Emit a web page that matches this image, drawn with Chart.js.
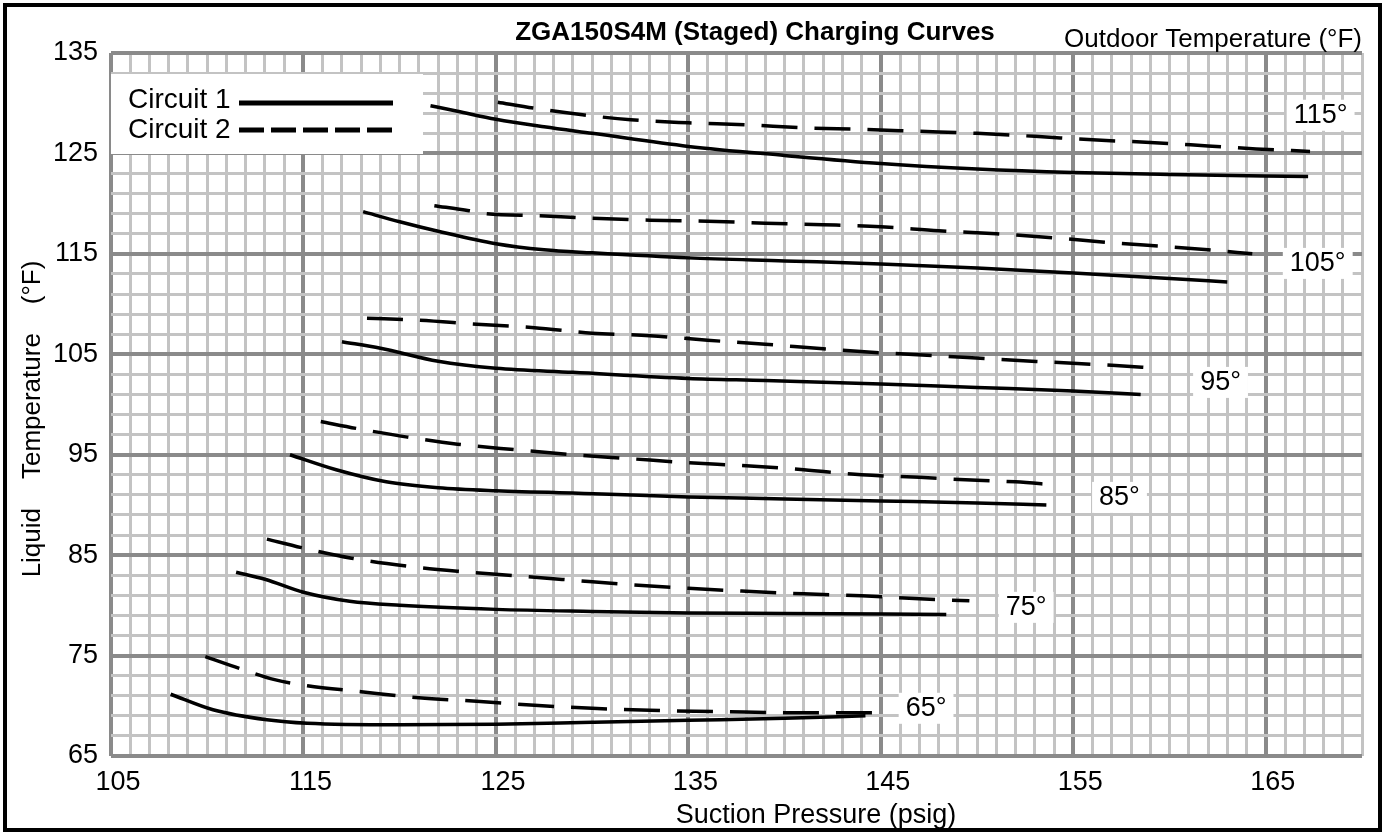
<!DOCTYPE html>
<html><head><meta charset="utf-8">
<script src="https://cdn.jsdelivr.net/npm/chart.js@4.4.0/dist/chart.umd.min.js"></script>
<style>html,body{margin:0;padding:0;background:#fff;}#wrap{width:1385px;height:832px;}</style>
</head><body><div id="wrap"><canvas id="c" width="1385" height="832"></canvas></div>
<script>
const chartTitle = 'ZGA150S4M (Staged) Charging Curves';
const outdoorTitle = 'Outdoor Temperature (°F)';
const xTitle = 'Suction Pressure (psig)';
const yTitle = 'Liquid    Temperature    (°F)';
const seriesNames = ['Circuit 1', 'Circuit 2'];
const xMin = 105, xMax = 170, yMin = 65, yMax = 135;
const xTickLabels = [105, 115, 125, 135, 145, 155, 165];
const yTickLabels = [65, 75, 85, 95, 105, 115, 125, 135];
const outdoorTemps = ['115°', '105°', '95°', '85°', '75°', '65°'];
const tempLabelX = [167.85, 167.7, 162.65, 157.4, 152.55, 147.35];
const tempLabelY = [128.85, 114.1, 102.25, 90.8, 79.85, 69.8];

// Circuit 1 (solid) [suction psig, liquid °F]
const c1_115 = [[121.6,129.75],[123,129.2],[125,128.4],[127.5,127.65],[130,127.0],[135,125.7],[140,124.8],[145,124.0],[150,123.45],[155,123.1],[160,122.9],[167.2,122.7]];
const c1_105 = [[118.1,119.2],[120,118.2],[122,117.25],[125,116.0],[127.5,115.4],[130,115.1],[135,114.6],[140,114.3],[145,114.0],[150,113.6],[155,113.1],[160,112.55],[163,112.2]];
const c1_95  = [[117.0,106.25],[119,105.6],[122,104.3],[125,103.6],[129,103.2],[135,102.6],[139,102.4],[145,102.05],[150,101.7],[155,101.35],[158.5,101.0]];
const c1_85  = [[114.3,95.0],[116.7,93.5],[119.3,92.3],[122,91.7],[125,91.4],[130.5,91.1],[135,90.8],[140,90.6],[145,90.4],[150,90.2],[153.6,90.0]];
const c1_75  = [[111.5,83.3],[113,82.6],[115,81.3],[117.4,80.4],[120,80.0],[125,79.6],[130,79.4],[135,79.25],[140,79.2],[148.4,79.1]];
const c1_65  = [[108.1,71.15],[110.3,69.6],[113.1,68.6],[115.2,68.25],[120,68.1],[125,68.15],[130,68.35],[135,68.55],[140,68.75],[144.2,69.0]];

// Circuit 2 (dashed)
const c2_115 = [[125.1,130.1],[127,129.5],[129.5,128.85],[132,128.35],[135,128.05],[138,127.85],[141,127.55],[144,127.4],[147,127.2],[150,127.0],[153,126.7],[156,126.35],[159,126.1],[162,125.75],[164.5,125.45],[167.3,125.2]];
const c2_105 = [[121.8,119.8],[123.6,119.3],[124.5,119.0],[127.3,118.8],[130,118.55],[133,118.35],[136,118.25],[139,118.05],[142,117.9],[145,117.7],[148,117.3],[151,117.0],[154,116.6],[157,116.1],[160,115.7],[162,115.4],[164.3,115.0]];
const c2_95  = [[118.3,108.6],[121,108.4],[124,108.0],[127,107.65],[130,107.1],[133,106.85],[136,106.4],[139,106.0],[142,105.55],[145,105.15],[148,104.85],[151,104.5],[154,104.2],[157,103.9],[159.4,103.6]];
const c2_85  = [[115.9,98.3],[117.8,97.6],[120.4,96.75],[123,96.05],[126,95.5],[129,95.0],[132,94.6],[135,94.2],[138,93.9],[141,93.5],[144,93.0],[147,92.75],[150,92.45],[152,92.3],[154,92.0]];
const c2_75  = [[113.1,86.6],[114.9,85.75],[117.5,84.7],[120.4,83.9],[123,83.4],[126,82.95],[129,82.5],[132,82.05],[135,81.7],[138,81.4],[141,81.15],[144,80.95],[147,80.65],[149.6,80.45]];
const c2_65  = [[109.9,74.9],[111.7,73.7],[113.5,72.6],[115.2,72.0],[118,71.4],[121,70.8],[124,70.45],[127,70.05],[130,69.75],[133,69.55],[137,69.4],[141,69.3],[145.2,69.3]];

const circuit1 = [c1_115, c1_105, c1_95, c1_85, c1_75, c1_65];
const circuit2 = [c2_115, c2_105, c2_95, c2_85, c2_75, c2_65];

const FONT = "'Liberation Sans', Arial, Helvetica, sans-serif";
const toPts = arr => arr.map(p => ({x: p[0], y: p[1]}));

const datasets = [];
circuit1.forEach((arr, i) => datasets.push({
  label: seriesNames[0] + ' ' + outdoorTemps[i], data: toPts(arr),
  borderColor: '#000', borderWidth: 3.5, pointRadius: 0, fill: false,
  cubicInterpolationMode: 'monotone', borderCapStyle: 'butt'
}));
circuit2.forEach((arr, i) => datasets.push({
  label: seriesNames[1] + ' ' + outdoorTemps[i], data: toPts(arr),
  borderColor: '#000', borderWidth: 3.5, pointRadius: 0, fill: false,
  cubicInterpolationMode: 'monotone', borderDash: [36, 17], borderCapStyle: 'butt'
}));

const MAJOR = '#8a8a8a', MINOR = '#c3c3c3';
const isMajor = (v, base) => Math.abs(((v - base) % 10 + 10) % 10) < 1e-6;

const annotations = {
  id: 'annotations',
  afterDraw(chart) {
    const c = chart.ctx, xs = chart.scales.x, ys = chart.scales.y, ca = chart.chartArea;
    c.save();
    // title and outdoor temperature header
    c.fillStyle = '#000';
    c.textBaseline = 'alphabetic';
    c.font = 'bold 26px ' + FONT;
    c.textAlign = 'center';
    c.fillText(chartTitle, 755, 40);
    c.font = '26px ' + FONT;
    c.textAlign = 'right';
    c.fillText(outdoorTitle, ca.right, 47);
    // x axis title
    c.font = '27px ' + FONT;
    c.textAlign = 'center';
    c.fillText(xTitle, 816, 823);
    // y axis title
    c.save();
    c.translate(33, 419);
    c.rotate(-Math.PI / 2);
    c.font = '26px ' + FONT;
    c.textAlign = 'center';
    c.textBaseline = 'middle';
    c.fillText(yTitle, 0, 0);
    c.restore();
    // legend box
    const lx = ca.left, ly = ca.top + 21;
    c.fillStyle = '#fff';
    c.fillRect(lx, ly, 312, 80);
    c.fillStyle = '#000';
    c.font = '28px ' + FONT;
    c.textAlign = 'left';
    c.textBaseline = 'alphabetic';
    c.fillText(seriesNames[0], lx + 17, ly + 34);
    c.fillText(seriesNames[1], lx + 17, ly + 64);
    c.strokeStyle = '#000';
    c.lineWidth = 5;
    c.lineCap = 'butt';
    c.beginPath(); c.moveTo(lx + 128, ly + 29); c.lineTo(lx + 282, ly + 29); c.stroke();
    c.setLineDash([25, 7]);
    c.beginPath(); c.moveTo(lx + 128, ly + 56); c.lineTo(lx + 282, ly + 56); c.stroke();
    c.setLineDash([]);
    // outdoor temperature labels
    c.font = '27px ' + FONT;
    c.textAlign = 'center';
    c.textBaseline = 'middle';
    outdoorTemps.forEach((t, i) => {
      const px = xs.getPixelForValue(tempLabelX[i]);
      const py = ys.getPixelForValue(tempLabelY[i]);
      const w = c.measureText(t).width + 14;
      c.fillStyle = '#fff';
      c.fillRect(px - w / 2, py - 15, w, 31);
      c.fillStyle = '#000';
      c.fillText(t, px, py + 1);
    });
    // outer frame
    c.strokeStyle = '#000';
    c.lineWidth = 4;
    c.strokeRect(5, 5, 1375, 825);
    c.restore();
  }
};

new Chart(document.getElementById('c'), {
  type: 'line',
  data: { datasets },
  options: {
    responsive: false, animation: false, devicePixelRatio: 1,
    layout: { padding: { left: 0, right: 23, top: 53, bottom: 0 } },
    plugins: { legend: { display: false }, tooltip: { enabled: false }, title: { display: false } },
    scales: {
      x: {
        type: 'linear', min: xMin, max: xMax,
        ticks: {
          stepSize: 1, autoSkip: false, maxRotation: 0, minRotation: 0, color: '#000',
          font: { family: FONT, size: 27 }, padding: 10, labelOffset: 7,
          callback: v => xTickLabels.includes(v) ? String(v) : ''
        },
        grid: {
          drawTicks: false,
          color: ctx => (ctx.tick && isMajor(ctx.tick.value, xMin)) ? MAJOR : MINOR,
          lineWidth: ctx => (ctx.tick && isMajor(ctx.tick.value, xMin)) ? 4 : 3
        },
        border: { display: false },
        afterFit: s => { s.height = 76; }
      },
      y: {
        type: 'linear', min: yMin, max: yMax,
        ticks: {
          stepSize: 2, autoSkip: false, color: '#000',
          font: { family: FONT, size: 27 }, padding: 13,
          callback: v => yTickLabels.includes(v) ? String(v) : ''
        },
        grid: {
          drawTicks: false,
          color: ctx => (ctx.tick && isMajor(ctx.tick.value, yMin)) ? MAJOR : MINOR,
          lineWidth: ctx => (ctx.tick && isMajor(ctx.tick.value, yMin)) ? 4 : 3
        },
        border: { display: false },
        afterFit: s => { s.width = 111; }
      }
    }
  },
  plugins: [annotations]
});
</script>
</body></html>
